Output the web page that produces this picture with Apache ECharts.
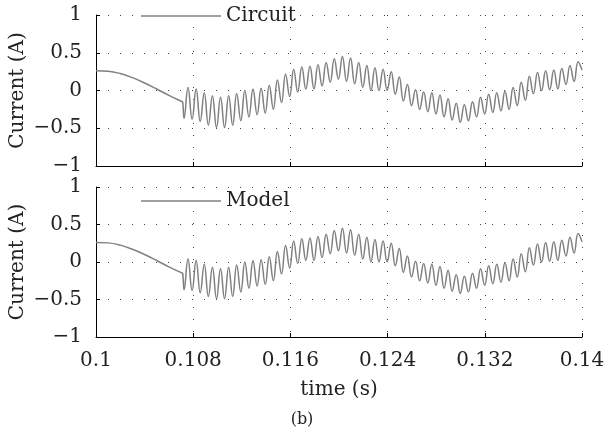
<!DOCTYPE html>
<html>
<head>
<meta charset="utf-8">
<script src="https://cdn.jsdelivr.net/npm/echarts@6/dist/echarts.min.js"></script>
<style>
html,body{margin:0;padding:0;background:#fff;}
#chart{width:604px;height:442px;}
</style>
</head>
<body>
<div id="chart"></div>
<script>
// ---- data ----
const xTickLabels = ['0.1', '0.108', '0.116', '0.124', '0.132', '0.14'];
const yTickLabels = ['−1', '−0.5', '0', '0.5', '1'];
const seriesNames = ['Circuit', 'Model'];

// smooth part before switching
const initTimes  = [0.1, 0.101, 0.102, 0.103, 0.104, 0.105, 0.106, 0.10705, 0.10713];
const initValues = [0.26, 0.255, 0.225, 0.17, 0.10, 0.02, -0.065, -0.145, -0.15];

// ripple peaks
const peakTimes = [0.10757,0.10824,0.10891,0.10958,0.11025,0.11092,0.11158,0.11225,0.11292,0.11359,
  0.11426,0.11493,0.11560,0.11627,0.11694,0.11761,0.11827,0.11894,0.11961,0.12028,
  0.12095,0.12162,0.12229,0.12296,0.12363,0.12430,0.12496,0.12563,0.12630,0.12697,
  0.12764,0.12831,0.12898,0.12965,0.13032,0.13099,0.13165,0.13232,0.13299,0.13366,
  0.13433,0.13500,0.13567,0.13634,0.13701,0.13768,0.13834,0.13901,0.13968];
const peakValues = [0.04,0.02,-0.03,-0.07,-0.09,-0.07,-0.04,0.00,0.02,0.03,
  0.07,0.14,0.22,0.28,0.31,0.32,0.34,0.37,0.42,0.45,
  0.43,0.37,0.33,0.30,0.28,0.25,0.18,0.08,0.01,-0.02,
  -0.03,-0.06,-0.11,-0.17,-0.19,-0.15,-0.09,-0.05,-0.03,-0.01,
  0.04,0.11,0.19,0.24,0.26,0.27,0.29,0.33,0.38];

// ripple troughs
const troughTimes = [0.10725,0.10791,0.10858,0.10925,0.10992,0.11058,0.11125,0.11192,0.11259,0.11326,
  0.11393,0.11460,0.11527,0.11594,0.11660,0.11727,0.11794,0.11861,0.11928,0.11995,
  0.12062,0.12129,0.12196,0.12263,0.12329,0.12396,0.12463,0.12530,0.12597,0.12664,
  0.12731,0.12798,0.12865,0.12931,0.12998,0.13065,0.13132,0.13199,0.13266,0.13333,
  0.13400,0.13467,0.13534,0.13600,0.13667,0.13734,0.13801,0.13868,0.13935];
const troughValues = [-0.37,-0.38,-0.41,-0.46,-0.49,-0.49,-0.46,-0.40,-0.35,-0.32,
  -0.30,-0.25,-0.16,-0.08,-0.02,0.02,0.02,0.06,0.11,0.15,
  0.12,0.09,0.04,0.00,0.00,0.00,-0.05,-0.14,-0.20,-0.25,
  -0.28,-0.31,-0.35,-0.39,-0.42,-0.40,-0.35,-0.31,-0.29,-0.27,
  -0.25,-0.20,-0.13,-0.04,0.00,0.01,0.02,0.08,0.12];

const endTimes  = [0.14];
const endValues = [0.27];

// ---- build ----
const T0 = 0.1;
function buildSeries() {
  const pts = [];
  const add = (ts, vs) => ts.forEach((t, i) => pts.push([t, vs[i]]));
  add(initTimes, initValues);
  add(peakTimes, peakValues);
  add(troughTimes, troughValues);
  add(endTimes, endValues);
  pts.sort((a, b) => a[0] - b[0]);
  return pts.map(p => [p[0] - T0, p[1]]);
}
const circuitData = buildSeries();
const modelData = buildSeries();

const FONT = '"DejaVu Serif", serif';
const FS = 20;
const TXT = '#222';
const LINE = '#808080';
const dotted = { type: [1, 11], color: '#444', width: 1 };

function xAxis(gi, labels) {
  return {
    type: 'value', gridIndex: gi, min: 0, max: 0.04, interval: 0.008,
    axisLine: { show: true, onZero: false, lineStyle: { color: '#000', width: 1 } },
    axisTick: { show: true, inside: true, length: 4, lineStyle: { color: '#000' } },
    splitLine: { show: true, lineStyle: dotted },
    axisLabel: {
      show: labels, margin: 14, fontFamily: FONT, fontSize: FS, color: TXT,
      formatter: v => xTickLabels[Math.round(v / 0.008)]
    },
    name: labels ? 'time (s)' : '', nameLocation: 'middle', nameGap: 43,
    nameTextStyle: { fontFamily: FONT, fontSize: FS, color: TXT }
  };
}
function yAxis(gi) {
  return {
    type: 'value', gridIndex: gi, min: -1, max: 1, interval: 0.5,
    axisLine: { show: true, onZero: false, lineStyle: { color: '#000', width: 1 } },
    axisTick: { show: true, inside: true, length: 4, lineStyle: { color: '#000' } },
    splitLine: { show: true, lineStyle: dotted },
    axisLabel: {
      margin: 14, fontFamily: FONT, fontSize: FS, color: TXT,
      formatter: v => yTickLabels[Math.round((v + 1) / 0.5)]
    },
    name: 'Current (A)', nameLocation: 'middle', nameGap: 68, nameRotate: 90,
    nameMoveOverlap: false,
    nameTextStyle: { fontFamily: FONT, fontSize: FS, color: TXT }
  };
}
function legend(name, top) {
  return {
    data: [name], left: 139, top: top, orient: 'horizontal',
    icon: 'rect', itemWidth: 80, itemHeight: 1.5,
    padding: [0, 4, 0, 2], backgroundColor: '#fff',
    textStyle: { fontFamily: FONT, fontSize: FS, color: TXT, lineHeight: 18 },
    selectedMode: false
  };
}

const chart = echarts.init(document.getElementById('chart'), null, { renderer: 'canvas' });
chart.setOption({
  animation: false,
  backgroundColor: '#fff',
  grid: [
    { left: 96, top: 15, width: 486, height: 151, outerBoundsMode: 'none', containLabel: false },
    { left: 96, top: 187, width: 486, height: 150, outerBoundsMode: 'none', containLabel: false }
  ],
  xAxis: [xAxis(0, false), xAxis(1, true)],
  yAxis: [yAxis(0), yAxis(1)],
  legend: [legend(seriesNames[0], 6), legend(seriesNames[1], 191)],
  title: {
    text: '(b)', left: 'center', top: 407,
    textStyle: { fontFamily: FONT, fontSize: 16, fontWeight: 'normal', color: TXT }
  },
  series: [
    { name: seriesNames[0], type: 'line', xAxisIndex: 0, yAxisIndex: 0, data: circuitData,
      showSymbol: false, smooth: 0.45, lineStyle: { color: LINE, width: 1.5 }, itemStyle: { color: LINE } },
    { name: seriesNames[1], type: 'line', xAxisIndex: 1, yAxisIndex: 1, data: modelData,
      showSymbol: false, smooth: 0.45, lineStyle: { color: LINE, width: 1.5 }, itemStyle: { color: LINE } }
  ]
});
</script>
</body>
</html>
